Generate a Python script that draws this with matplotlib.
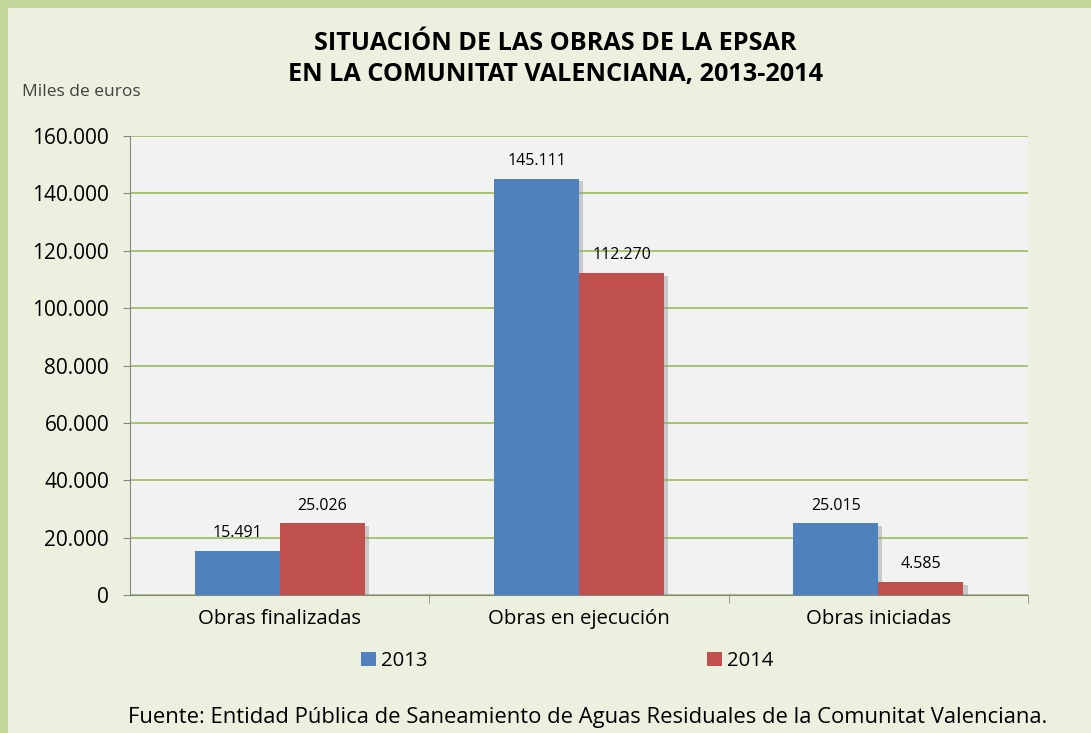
import numpy as np
import matplotlib.pyplot as plt
import matplotlib.patheffects as pe
from matplotlib.patches import Rectangle, Patch
from matplotlib.ticker import FuncFormatter

categorias = ['Obras finalizadas', 'Obras en ejecución', 'Obras iniciadas']
valores_2013 = [15491, 145111, 25015]
valores_2014 = [25026, 112270, 4585]
etiquetas_2013 = ['15.491', '145.111', '25.015']
etiquetas_2014 = ['25.026', '112.270', '4.585']
series = ['2013', '2014']

plt.rcParams['font.family'] = ['Open Sans', 'DejaVu Sans']

azul = '#4f81bd'
rojo = '#c0504d'
verde = '#c4d79b'

fig = plt.figure(figsize=(10.91, 7.33), dpi=100)
fig.patch.set_facecolor('#ebf1de')
# marco verde arriba y a la izquierda
fig.patches.append(Rectangle((0, 1 - 8 / 733), 1, 8 / 733, transform=fig.transFigure,
                             facecolor=verde, edgecolor='none'))
fig.patches.append(Rectangle((0, 0), 8 / 1091, 1, transform=fig.transFigure,
                             facecolor=verde, edgecolor='none'))

ax = fig.add_axes([130 / 1091, 1 - 595 / 733, 898 / 1091, 459 / 733])
ax.set_facecolor('#f2f2f2')

x = np.arange(len(categorias))
w = 0.284
sombra = [pe.SimplePatchShadow(offset=(3, -2), shadow_rgbFace='#999999', alpha=0.45), pe.Normal()]
ax.bar(x - w / 2, valores_2013, w, color=azul, zorder=3, path_effects=sombra)
ax.bar(x + w / 2, valores_2014, w, color=rojo, zorder=3, path_effects=sombra)

for xi, v, t in zip(x - w / 2, valores_2013, etiquetas_2013):
    ax.text(xi, v + 3300, t, ha='center', va='bottom', fontsize=11.5, zorder=4)
for xi, v, t in zip(x + w / 2, valores_2014, etiquetas_2014):
    ax.text(xi, v + 3300, t, ha='center', va='bottom', fontsize=11.5, zorder=4)

ax.set_xlim(-0.5, 2.5)
ax.set_ylim(0, 160000)
ax.set_yticks(np.arange(0, 160001, 20000))
ax.yaxis.set_major_formatter(FuncFormatter(lambda v, p: f'{int(v):,}'.replace(',', '.')))
ax.yaxis.grid(True, color='#9bbb59', linewidth=1.2, zorder=1)
ax.set_axisbelow(True)

ax.set_xticks(x)
ax.set_xticklabels(categorias, fontsize=14.7)
ax.set_xticks([0.5, 1.5, 2.5], minor=True)
ax.tick_params(axis='x', which='major', length=0, pad=10)
ax.tick_params(axis='x', which='minor', length=6, color='#868686', direction='out')
ax.tick_params(axis='y', length=5, color='#868686', labelsize=15, pad=10)

for s in ['top', 'right']:
    ax.spines[s].set_visible(False)
ax.spines['left'].set_color('#868686')
ax.spines['bottom'].set_color('#868686')

fig.text(555 / 1091, 1 - 44 / 733, 'SITUACIÓN DE LAS OBRAS DE LA EPSAR',
         ha='center', va='center', fontsize=18.2, fontweight='bold')
fig.text(555 / 1091, 1 - 75 / 733, 'EN LA COMUNITAT VALENCIANA, 2013-2014',
         ha='center', va='center', fontsize=18.2, fontweight='bold')
fig.text(22 / 1091, 1 - 92 / 733, 'Miles de euros', ha='left', va='center',
         fontsize=12.5, color='#404040')

handles = [Patch(facecolor=azul), Patch(facecolor=rojo)]
fig.legend(handles, series, loc='center', bbox_to_anchor=(567 / 1091, 1 - 661 / 733),
           ncol=2, frameon=False, fontsize=14.6, handlelength=0.72, handleheight=0.72,
           handletextpad=0.25, columnspacing=13.8)

fig.text(588 / 1091, 1 - 718 / 733,
         'Fuente: Entidad Pública de Saneamiento de Aguas Residuales de la Comunitat Valenciana.',
         ha='center', va='center', fontsize=15.8)

fig.savefig('out.png', dpi=100, facecolor=fig.get_facecolor())
